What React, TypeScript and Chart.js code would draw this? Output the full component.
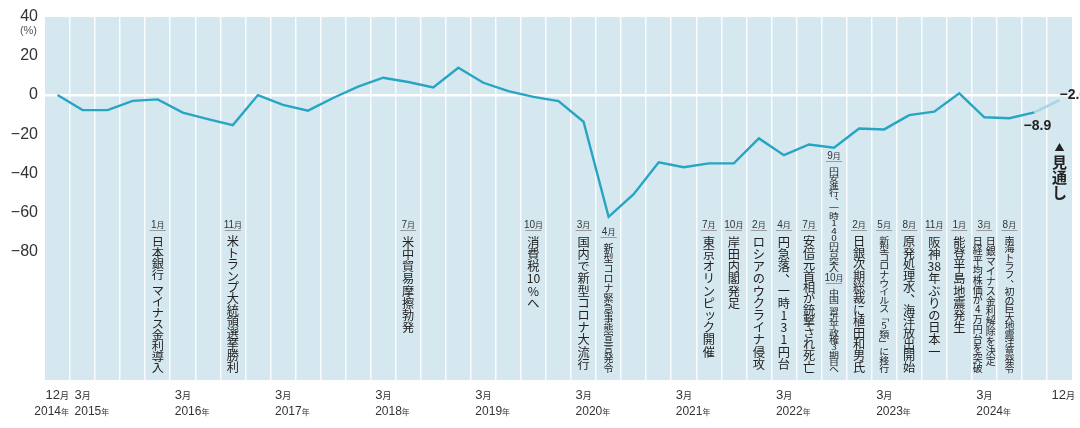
import React, { useEffect, useRef } from "react";
import { Chart, registerables } from "chart.js";

Chart.register(...registerables);

// ---- data ----
const categories = [
  "2014-12",
  "2015-03", "2015-06", "2015-09", "2015-12",
  "2016-03", "2016-06", "2016-09", "2016-12",
  "2017-03", "2017-06", "2017-09", "2017-12",
  "2018-03", "2018-06", "2018-09", "2018-12",
  "2019-03", "2019-06", "2019-09", "2019-12",
  "2020-03", "2020-06", "2020-09", "2020-12",
  "2021-03", "2021-06", "2021-09", "2021-12",
  "2022-03", "2022-06", "2022-09", "2022-12",
  "2023-03", "2023-06", "2023-09", "2023-12",
  "2024-03", "2024-06", "2024-09", "2024-12",
];

const values = [
  0,
  -7.7, -7.7, -3, -2.2,
  -9, -12.3, -15.4, 0,
  -5, -8, -1.5, 4.3,
  8.9, 6.7, 3.9, 14,
  6.3, 2, -0.9, -3.1,
  -13.7, -62.4, -50.8, -34.4,
  -37, -35, -35, -22.2,
  -30.8, -25.3, -27, -17.1,
  -17.6, -10.3, -8.5, 0.9,
  -11.4, -11.9, -8.9, -2.6,
];

const forecastFrom = 39; // last segment (index 39 -> 40) is the outlook
const labelledPoints = [39, 40];

const yTicks = [40, 20, 0, -20, -40, -60, -80];
const unitLabel = "(%)";

const xTickIndex = [0, 1, 5, 9, 13, 17, 21, 25, 29, 33, 37, 40];
const xTickMonth = ["12", "3", "3", "3", "3", "3", "3", "3", "3", "3", "3", "12"];
const xTickYear = ["2014", "2015", "2016", "2017", "2018", "2019", "2020", "2021", "2022", "2023", "2024", ""];

const eventIndex = [4, 7, 14, 19, 21, 22, 26, 27, 28, 29, 30, 31, 31, 32, 33, 34, 35, 36, 37, 38];
const eventMonth = ["1", "11", "7", "10", "3", "4", "7", "10", "2", "4", "7", "9", "10", "2", "5", "8", "11", "1", "3", "8"];
const eventText = [
  "日本銀行 マイナス金利導入",
  "米トランプ大統領選挙勝利",
  "米中貿易摩擦勃発",
  "消費税10%へ",
  "国内で新型コロナ大流行",
  "新型コロナ緊急事態宣言発令",
  "東京オリンピック開催",
  "岸田内閣発足",
  "ロシアのウクライナ侵攻",
  "円急落、一時131円台",
  "安倍元首相が銃撃され死亡",
  "円安進行、一時140円台突入",
  "中国 習近平政権3期目へ",
  "日銀次期総裁に植田和男氏",
  "新型コロナウイルス「5類」に移行",
  "原発処理水、海洋放出開始",
  "阪神38年ぶりの日本一",
  "能登半島地震発生",
  "日銀マイナス金利解除を決定\n日経平均株価が4万円台を突破",
  "南海トラフ、初の巨大地震注意発令",
];
const outlookText = "見通し";

// ---- style / layout (kept separate from data) ----
const BG = "#d5e7ef";
const LINE = "#27a5c3";
const FORECAST = "#a6d5e5";
const TEXT = "#222222";
const JP = '"Noto Sans CJK JP", "Noto Sans", sans-serif';
const NUM = '"Liberation Sans", Arial, sans-serif';

const eventLabelYDefault = 224;
const eventBottomDefault = 373;
const eventLabelYSpecial: Record<number, number> = { 5: 231, 11: 155, 12: 277 };
const eventBottomSpecial: Record<number, number> = { 11: 272 };

const ROTATE = "ー－―—〜～「」『』（）()-";
const SMALLKANA = "ッャュョァィゥェォっゃゅょぁぃぅぇぉ";

function cellsOf(s: string): string[] {
  const out: string[] = [];
  let i = 0;
  while (i < s.length) {
    const m = /^[0-9]+/.exec(s.slice(i));
    if (m) {
      if (m[0].length === 2) out.push(m[0]);
      else for (const d of m[0]) out.push(d);
      i += m[0].length;
      continue;
    }
    out.push(s[i]);
    i++;
  }
  return out;
}

function drawVertical(
  ctx: CanvasRenderingContext2D,
  text: string,
  cx: number,
  top: number,
  bottom: number,
  fs: number,
  weight: string
) {
  const cells = cellsOf(text);
  const w = cells.map((c) => (c === " " ? 0.5 : 1));
  const total = w.reduce((a, b) => a + b, 0);
  const natural = fs * 1.0;
  const step = Math.min(natural, (bottom - top) / total);
  const sy = Math.min(1, step / (fs * 0.94));
  let y = top;
  ctx.textAlign = "center";
  ctx.textBaseline = "middle";
  ctx.font = `${weight} ${fs}px ${JP}`;
  cells.forEach((c, i) => {
    const h = w[i] * step;
    const cy = y + h / 2;
    y += h;
    if (c === " ") return;
    ctx.save();
    ctx.translate(cx, cy);
    ctx.scale(1, sy);
    if (ROTATE.includes(c)) {
      ctx.rotate(Math.PI / 2);
    } else if (c === "、" || c === "。") {
      ctx.translate(fs * 0.58, -fs * 0.55);
    } else if (SMALLKANA.includes(c)) {
      ctx.translate(fs * 0.1, -fs * 0.1);
    }
    ctx.fillText(c, 0, 0);
    ctx.restore();
  });
}

function drawMixed(
  ctx: CanvasRenderingContext2D,
  parts: [string, string][],
  x: number,
  baseline: number,
  align: "left" | "right" | "center"
) {
  ctx.textBaseline = "alphabetic";
  ctx.textAlign = "left";
  const widths = parts.map(([t, f]) => {
    ctx.font = f;
    return ctx.measureText(t).width;
  });
  const total = widths.reduce((a, b) => a + b, 0);
  let sx = align === "left" ? x : align === "right" ? x - total : x - total / 2;
  parts.forEach(([t, f], i) => {
    ctx.font = f;
    ctx.fillText(t, sx, baseline);
    sx += widths[i];
  });
}

const fmt = (v: number) => (v < 0 ? "−" + Math.abs(v) : String(v));

const bgPlugin = {
  id: "bg",
  beforeDraw(chart: any) {
    const { ctx, chartArea: a } = chart;
    ctx.save();
    ctx.fillStyle = BG;
    ctx.fillRect(a.left, a.top, a.right - a.left, a.bottom - a.top);
    ctx.restore();
  },
};

const overlayPlugin = {
  id: "overlay",
  afterDraw(chart: any) {
    const { ctx } = chart;
    const xs = chart.scales.x;
    const ys = chart.scales.y;
    ctx.save();

    // unit
    ctx.fillStyle = "#555";
    ctx.font = `11px ${NUM}`;
    ctx.textAlign = "right";
    ctx.textBaseline = "middle";
    ctx.fillText(unitLabel, 37, 31);

    // x axis labels
    ctx.fillStyle = "#333";
    xTickIndex.forEach((idx, k) => {
      const px = xs.getPixelForValue(idx);
      const first = k === 0;
      const align = first ? "right" : "left";
      const ax = first ? px + 11.5 : px - 8;
      drawMixed(ctx, [[xTickMonth[k], `13px ${NUM}`], ["月", `9px ${JP}`]], ax, 399, align);
      if (xTickYear[k]) {
        drawMixed(ctx, [[xTickYear[k], `12px ${NUM}`], ["年", `8px ${JP}`]], ax, 415, align);
      }
    });

    // events
    eventIndex.forEach((idx, k) => {
      const px = xs.getPixelForValue(idx);
      const labelY = eventLabelYSpecial[k] ?? eventLabelYDefault;
      const bottom = eventBottomSpecial[k] ?? eventBottomDefault;
      ctx.fillStyle = "#333";
      drawMixed(ctx, [[eventMonth[k], `10px ${NUM}`], ["月", `8px ${JP}`]], px, labelY + 4, "center");
      ctx.strokeStyle = "#9a9a9a";
      ctx.lineWidth = 1;
      ctx.beginPath();
      ctx.moveTo(px - 8, labelY + 6.5);
      ctx.lineTo(px + 8, labelY + 6.5);
      ctx.stroke();
      const top = labelY + 12;
      const cols = eventText[k].split("\n");
      const nCells = cellsOf(cols[0]).filter((c) => c !== " ").length;
      const small = cols.length > 1 || nCells > 12 || bottom - top < 120;
      const fs = small ? 10 : 12.2;
      ctx.fillStyle = TEXT;
      cols.forEach((col, ci) => {
        const off = cols.length > 1 ? (cols.length - 1) * 6.5 - ci * 13 : 0;
        drawVertical(ctx, col, px + off, top, bottom, fs, "normal");
      });
    });

    // outlook label
    const ox = xs.getPixelForValue(categories.length - 1);
    ctx.fillStyle = TEXT;
    ctx.textAlign = "center";
    ctx.textBaseline = "middle";
    ctx.font = `10px ${JP}`;
    ctx.fillText("▲", ox, 147);
    drawVertical(ctx, outlookText, ox, 155, 202, 15, "bold");

    // value labels
    ctx.font = `bold 14px ${NUM}`;
    ctx.fillStyle = TEXT;
    labelledPoints.forEach((idx) => {
      const px = xs.getPixelForValue(idx);
      const py = ys.getPixelForValue(values[idx]);
      ctx.textBaseline = "middle";
      if (idx === categories.length - 1) {
        ctx.textAlign = "left";
        ctx.fillText(fmt(values[idx]), px, py - 5);
      } else {
        ctx.textAlign = "center";
        ctx.fillText(fmt(values[idx]), px + 3, py + 14);
      }
    });

    ctx.restore();
  },
};

export default function App() {
  const ref = useRef<HTMLCanvasElement>(null);
  useEffect(() => {
    document.body.style.margin = "0";
    const canvas = ref.current!;
    const chart = new Chart(canvas, {
      type: "line",
      data: {
        labels: categories,
        datasets: [
          {
            data: values,
            borderColor: LINE,
            borderWidth: 2.4,
            pointRadius: 0,
            tension: 0,
            fill: false,
            segment: {
              borderColor: (c: any) => (c.p0DataIndex >= forecastFrom ? FORECAST : LINE),
            },
          },
        ],
      },
      options: {
        animation: false,
        responsive: false,
        events: [],
        layout: { padding: { left: 0, right: 8, top: 17, bottom: 48 } },
        plugins: { legend: { display: false }, tooltip: { enabled: false } },
        scales: {
          x: {
            type: "category",
            offset: true,
            grid: {
              offset: true,
              drawTicks: false,
              lineWidth: 1.5,
              color: (c: any) =>
                c.type !== "tick" || c.index === 0 ? "rgba(0,0,0,0)" : "rgba(255,255,255,0.85)",
            },
            border: { display: false },
            ticks: { display: false, autoSkip: false },
            afterFit: (s: any) => {
              s.height = 0;
            },
          },
          y: {
            min: -146,
            max: 40,
            afterBuildTicks: (s: any) => {
              s.ticks = yTicks.map((v) => ({ value: v }));
            },
            afterFit: (s: any) => {
              s.width = 45;
            },
            grid: {
              drawTicks: false,
              lineWidth: 2.5,
              color: (c: any) => (c.tick && c.tick.value === 0 ? "#ffffff" : "rgba(0,0,0,0)"),
            },
            border: { display: false },
            ticks: {
              padding: 7,
              color: "#333",
              font: { family: "Liberation Sans", size: 16 },
              callback: (v: any) => fmt(Number(v)),
            },
          },
        },
      },
      plugins: [bgPlugin, overlayPlugin],
    });
    return () => chart.destroy();
  }, []);
  return (
    <div style={{ width: 1080, height: 428 }}>
      <canvas ref={ref} width={1080} height={428} style={{ display: "block" }} />
    </div>
  );
}
